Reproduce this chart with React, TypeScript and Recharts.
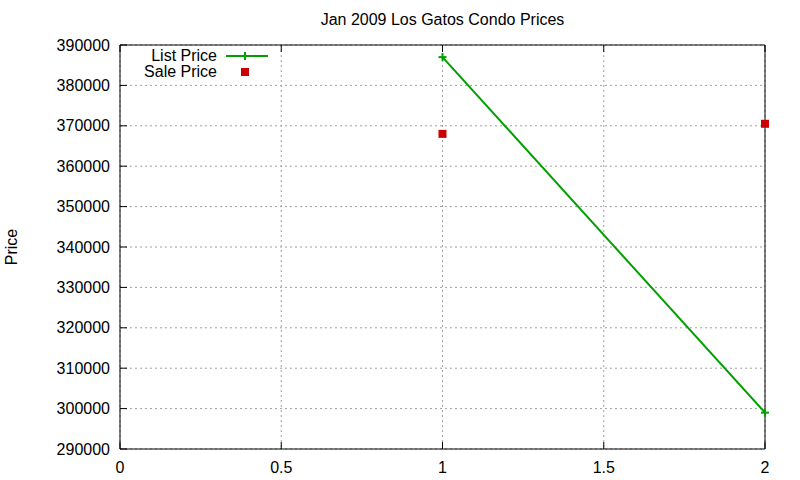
import { ComposedChart, Line, Scatter, XAxis, YAxis, CartesianGrid } from "recharts";

document.body.style.margin = "0";

const xValues = [1, 2];
const listPrice = [387000, 299000];
const salePrice = [368000, 370500];
const xTicks = [0, 0.5, 1, 1.5, 2];
const yTicks = [290000, 300000, 310000, 320000, 330000, 340000, 350000, 360000, 370000, 380000, 390000];

const GREEN = "#00a000";
const RED = "#cc0000";
const FONT = "'Liberation Sans', Arial, sans-serif";

const data = xValues.map((x, i) => ({ x, list: listPrice[i], sale: salePrice[i] }));

const PlusDot = (props: any) => {
  const { cx, cy } = props;
  if (cx == null || cy == null) return null;
  return (
    <g stroke={GREEN} strokeWidth={2}>
      <line x1={cx - 4} x2={cx + 4} y1={cy} y2={cy} />
      <line x1={cx} x2={cx} y1={cy - 4} y2={cy + 4} />
    </g>
  );
};

const Square = (props: any) => {
  const { cx, cy } = props;
  if (cx == null || cy == null) return null;
  return <rect x={cx - 4} y={cy - 4} width={8} height={8} fill={RED} />;
};

const KeyBox = () => (
  <svg width={280} height={40} style={{ position: "absolute", left: 0, top: 46, fontFamily: FONT, fontSize: 16 }}>
    <text x={217} y={15} textAnchor="end" fill="#000">List Price</text>
    <line x1={226} x2={268} y1={10} y2={10} stroke={GREEN} strokeWidth={2} />
    <PlusDot cx={245} cy={10} />
    <text x={217} y={31} textAnchor="end" fill="#000">Sale Price</text>
    <Square cx={245} cy={26} />
  </svg>
);

export default function App() {
  const tickStyle = { fontSize: 16, fill: "#000", fontFamily: FONT };
  return (
    <div style={{ position: "relative", width: 800, height: 480, background: "#fff", fontFamily: FONT }}>
      <div style={{ position: "absolute", left: 85, width: 715, top: 11, textAlign: "center", fontSize: 16 }}>
        Jan 2009 Los Gatos Condo Prices
      </div>
      <div
        style={{
          position: "absolute",
          left: 12,
          top: 247,
          fontSize: 16,
          transform: "translate(-50%, -50%) rotate(-90deg)",
        }}
      >
        Price
      </div>
      <ComposedChart
        width={800}
        height={480}
        data={data}
        margin={{ top: 44, right: 34, bottom: 0, left: 0 }}
      >
        <CartesianGrid xAxisId="b" yAxisId="l" stroke="#a0a0a0" strokeDasharray="2 3" />
        <XAxis
          xAxisId="b"
          type="number"
          dataKey="x"
          domain={[0, 2]}
          ticks={xTicks}
          height={31}
          stroke="#000"
          tickSize={-7}
          tickMargin={20}
          tick={tickStyle}
          interval={0}
        />
        <XAxis
          xAxisId="t"
          orientation="top"
          type="number"
          dataKey="x"
          domain={[0, 2]}
          ticks={xTicks}
          height={1}
          stroke="#000"
          tickSize={-7}
          tickFormatter={() => ""}
          interval={0}
        />
        <YAxis
          yAxisId="l"
          type="number"
          domain={[290000, 390000]}
          ticks={yTicks}
          width={120}
          stroke="#000"
          tickSize={-7}
          tickMargin={17}
          tick={tickStyle}
          interval={0}
        />
        <YAxis
          yAxisId="r"
          orientation="right"
          type="number"
          domain={[290000, 390000]}
          ticks={yTicks}
          width={1}
          stroke="#000"
          tickSize={-7}
          tickFormatter={() => ""}
          interval={0}
        />
        <Line
          xAxisId="b"
          yAxisId="l"
          dataKey="list"
          stroke={GREEN}
          strokeWidth={2}
          dot={<PlusDot />}
          activeDot={false}
          isAnimationActive={false}
        />
        <Scatter
          xAxisId="b"
          yAxisId="l"
          dataKey="sale"
          shape={<Square />}
          isAnimationActive={false}
        />
      </ComposedChart>
      <KeyBox />
    </div>
  );
}
